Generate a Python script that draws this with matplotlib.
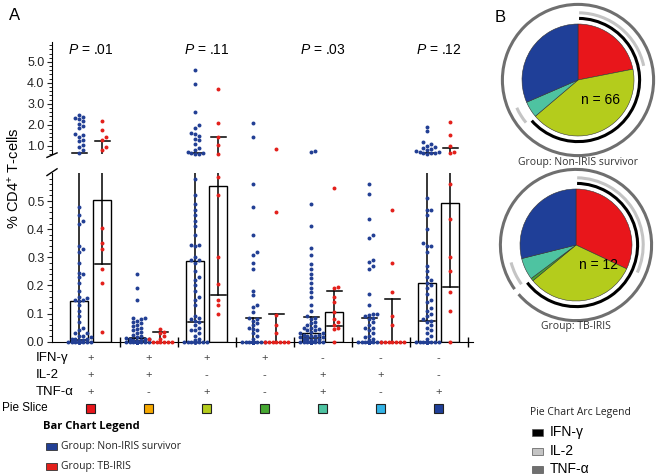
import numpy as np
import matplotlib
matplotlib.use('Agg')
import matplotlib.pyplot as plt
from matplotlib.patches import Rectangle, Wedge, Arc

plt.rcParams['font.family'] = ['Liberation Sans', 'DejaVu Sans']
plt.rcParams['mathtext.fontset'] = 'custom'
plt.rcParams['mathtext.rm'] = 'Liberation Sans'
plt.rcParams['mathtext.it'] = 'Liberation Sans:italic'

# --- data -------------------------------------------------------------
ifn_row = ['+', '+', '+', '+', '-', '-', '-']
il2_row = ['+', '+', '-', '-', '+', '+', '-']
tnf_row = ['+', '-', '+', '-', '+', '-', '+']
slice_colors = ['#e8161b', '#f6a800', '#b4cc1c', '#46a832', '#4ec3a1', '#33b3e6', '#1f3f98']

p_groups = [0, 2, 4, 6]
p_labels = ['.01', '.11', '.03', '.12']

# Non-IRIS survivors (n = 66) per cytokine combination
non_iris = [
    [2.48, 2.38, 2.32, 2.25, 2.2, 2.05, 1.95, 1.85, 1.55, 1.5, 1.42, 1.25, 1.2, 1.02, 0.95, 0.78, 0.66,
     0.48, 0.45, 0.43, 0.42, 0.34, 0.33, 0.32, 0.28, 0.245, 0.24, 0.23, 0.21, 0.18, 0.16, 0.155, 0.15,
     0.148, 0.145, 0.13, 0.11, 0.09, 0.07, 0.05, 0.04, 0.03, 0.03, 0.02, 0.02, 0.015, 0.01, 0.01, 0.01,
     0.005, 0.005, 0, 0, 0, 0, 0, 0, 0, 0, 0, 0, 0, 0, 0, 0, 0],
    [0.24, 0.19, 0.15, 0.085, 0.083, 0.08, 0.075, 0.07, 0.065, 0.06, 0.055, 0.05, 0.045, 0.04, 0.035,
     0.03, 0.025, 0.02, 0.015, 0.012, 0.01, 0.01, 0.008, 0.005, 0.005, 0.003,
     0, 0, 0, 0, 0, 0, 0, 0, 0, 0, 0, 0, 0, 0, 0, 0, 0, 0, 0, 0,
     0, 0, 0, 0, 0, 0, 0, 0, 0, 0, 0, 0, 0, 0, 0, 0, 0, 0, 0, 0],
    [4.6, 3.95, 2.6, 2.0, 1.85, 1.6, 1.55, 1.45, 1.3, 1.25, 1.1, 0.9, 0.8, 0.7, 0.65, 0.63, 0.62, 0.62,
     0.58, 0.52, 0.49, 0.47, 0.45, 0.43, 0.41, 0.38, 0.345, 0.345, 0.34, 0.3, 0.29, 0.29, 0.28, 0.25,
     0.23, 0.22, 0.2, 0.18, 0.16, 0.15, 0.13, 0.09, 0.085, 0.08, 0.075, 0.07, 0.06, 0.05, 0.04, 0.04,
     0.03, 0.02, 0.01, 0.005, 0, 0, 0, 0, 0, 0, 0, 0, 0, 0, 0, 0],
    [2.1, 1.4, 0.56, 0.48, 0.38, 0.32, 0.31, 0.28, 0.26, 0.18, 0.165, 0.13, 0.125, 0.105, 0.085, 0.08,
     0.075, 0.065, 0.06, 0.05, 0.045, 0.04, 0.03, 0.02, 0.01,
     0, 0, 0, 0, 0, 0, 0, 0, 0, 0, 0, 0, 0, 0, 0, 0, 0, 0, 0, 0, 0,
     0, 0, 0, 0, 0, 0, 0, 0, 0, 0, 0, 0, 0, 0, 0, 0, 0, 0, 0, 0, 0],
    [0.72, 0.68, 0.49, 0.41, 0.335, 0.31, 0.275, 0.26, 0.24, 0.225, 0.21, 0.19, 0.175, 0.16, 0.13,
     0.11, 0.09, 0.085, 0.08, 0.07, 0.065, 0.06, 0.055, 0.05, 0.05, 0.045, 0.04, 0.04, 0.035, 0.03,
     0.03, 0.025, 0.025, 0.02, 0.02, 0.02, 0.015, 0.015, 0.01, 0.01, 0.01, 0.005, 0.005,
     0, 0, 0, 0, 0, 0, 0, 0, 0, 0, 0, 0, 0, 0, 0, 0, 0, 0, 0, 0, 0, 0, 0],
    [0.56, 0.525, 0.435, 0.38, 0.37, 0.29, 0.285, 0.27, 0.26, 0.17, 0.13, 0.1, 0.1, 0.095, 0.09,
     0.085, 0.08, 0.07, 0.06, 0.05, 0.05, 0.04, 0.03, 0.02, 0.015, 0.01, 0.005,
     0, 0, 0, 0, 0, 0, 0, 0, 0, 0, 0, 0, 0, 0, 0, 0, 0, 0, 0, 0,
     0, 0, 0, 0, 0, 0, 0, 0, 0, 0, 0, 0, 0, 0, 0, 0, 0, 0, 0],
    [1.9, 1.7, 1.15, 1.1, 1.0, 0.95, 0.9, 0.85, 0.8, 0.75, 0.7, 0.68, 0.65, 0.65, 0.63, 0.62,
     0.51, 0.47, 0.47, 0.45, 0.4, 0.35, 0.34, 0.34, 0.32, 0.27, 0.25, 0.23, 0.22, 0.21, 0.2, 0.19,
     0.17, 0.15, 0.14, 0.12, 0.11, 0.1, 0.09, 0.08, 0.075, 0.07, 0.06, 0.05, 0.04, 0.03, 0.02, 0.01,
     0, 0, 0, 0, 0, 0, 0, 0, 0, 0, 0, 0, 0, 0, 0, 0, 0, 0],
]

# TB-IRIS (n = 12)
tb_iris = [
    [2.2, 1.75, 1.4, 1.25, 0.95, 0.8, 0.405, 0.35, 0.33, 0.26, 0.21, 0.035],
    [0.045, 0.035, 0.03, 0.02, 0.01, 0.01, 0, 0, 0, 0, 0, 0],
    [3.7, 2.1, 1.4, 1.05, 0.62, 0.585, 0.52, 0.3, 0.205, 0.15, 0.13, 0.1],
    [0.85, 0.46, 0.095, 0.06, 0.03, 0, 0, 0, 0, 0, 0, 0],
    [0.545, 0.195, 0.19, 0.16, 0.14, 0.105, 0.08, 0.07, 0.06, 0.05, 0.045, 0],
    [0.47, 0.28, 0.175, 0.09, 0.06, 0, 0, 0, 0, 0, 0, 0],
    [2.15, 1.5, 0.98, 0.7, 0.66, 0.56, 0.435, 0.3, 0.25, 0.175, 0.11, 0],
]

# box top, median line and upper whisker
non_box = [0.143, 0.012, 0.286, 0, 0.03, 0, 0.21]
non_med = [0.007, 0.004, 0.071, 0, 0.012, 0, 0.073]
non_top = [0.63, 0.013, 0.64, 0.083, 0.087, 0.084, 0.66]
tb_box = [0.505, 0, 0.552, 0, 0.106, 0, 0.494]
tb_med = [0.278, 0, 0.166, 0, 0.055, 0, 0.193]
tb_top = [1.22, 0.033, 1.41, 0.098, 0.18, 0.151, 0.89]

# pie chart slice percentages (same order as the 7 combinations)
pie_non = [21.9, 0, 41.9, 0, 4.7, 0, 31.5]
pie_tb = [32.0, 0, 32.0, 0.8, 6.3, 0, 28.9]

BLUE = '#223f94'
RED = '#e3201b'
W, H = 662, 475


def fx(px):
    return px / W


def fy(py):
    return 1 - py / H


fig = plt.figure(figsize=(6.62, 4.75), dpi=100)

# --- broken axis -----------------------------------------------------------
ax_hi = fig.add_axes([fx(52), fy(154), fx(473) - fx(52), (154 - 42) / H])
ax_lo = fig.add_axes([fx(52), fy(341.7), fx(473) - fx(52), (341.7 - 173) / H])

xlim = (-0.67, 6.59)
for ax in (ax_hi, ax_lo):
    ax.set_xlim(*xlim)
    for s in ['top', 'right']:
        ax.spines[s].set_visible(False)
    ax.tick_params(axis='y', labelsize=9, colors='#222', length=3.5, width=0.8, pad=2)
    ax.tick_params(axis='y', which='minor', length=2, width=0.6)

ax_hi.set_ylim(0.6, 5.95)
ax_hi.spines['bottom'].set_visible(False)
ax_hi.set_xticks([])
ax_hi.set_yticks([1, 2, 3, 4, 5])
ax_hi.set_yticklabels(['1.0', '2.0', '3.0', '4.0', '5.0'])
ax_hi.set_yticks(np.arange(0.6, 5.95, 0.2), minor=True)

ax_lo.set_ylim(0, 0.6)
ax_lo.set_yticks([0, 0.1, 0.2, 0.3, 0.4, 0.5])
ax_lo.set_yticklabels(['0.0', '0.1', '0.2', '0.3', '0.4', '0.5'])
ax_lo.set_yticks(np.arange(0, 0.6, 0.02), minor=True)
ax_lo.set_xticks(np.arange(0.5, 7, 1))
ax_lo.set_xticklabels([])
ax_lo.tick_params(axis='x', direction='inout', length=7, width=1)

# break marks
ax_hi.plot([-0.012, 0.012], [-0.03, 0.01], color='k', lw=1, transform=ax_hi.transAxes, clip_on=False)
ax_lo.plot([-0.012, 0.012], [0.985, 1.025], color='k', lw=1, transform=ax_lo.transAxes, clip_on=False)

# boxes, medians and whiskers
cap = 0.13
for i in range(7):
    for off, box, med, top in [(-0.2, non_box[i], non_med[i], non_top[i]),
                               (0.2, tb_box[i], tb_med[i], tb_top[i])]:
        x = i + off
        for ax in (ax_hi, ax_lo):
            if box > 0:
                ax.add_patch(Rectangle((x - 0.155, 0), 0.31, box, fc='white', ec='k', lw=1, zorder=2))
            ax.plot([x, x], [med, top], color='k', lw=1.1, zorder=3)
            ax.plot([x - cap, x + cap], [top, top], color='k', lw=1.1, zorder=3)
            if med > 0:
                ax.plot([x - cap, x + cap], [med, med], color='k', lw=1.1, zorder=3)


# beeswarm placement in pixel space
def swarm(ys_px, d, max_half):
    cands = [0.0]
    k = 1
    while k * d <= max_half:
        cands += [k * d, -k * d]
        k += 1
    offs = np.zeros(len(ys_px))
    placed = []
    for i in np.argsort(ys_px):
        y = ys_px[i]
        best, best_gap = 0.0, -1
        for c in cands:
            gap = min([np.hypot(c - px, y - py) for px, py in placed], default=1e9)
            if gap >= d * 0.95:
                best = c
                break
            if gap > best_gap:
                best_gap, best = gap, c
        offs[i] = best
        placed.append((best, y))
    return offs


px_per_unit = ax_lo.transData.transform((1, 0))[0] - ax_lo.transData.transform((0, 0))[0]

for i in range(7):
    for off, vals, col in [(-0.2, non_iris[i], BLUE), (0.2, tb_iris[i], RED)]:
        vals = np.array(vals, dtype=float)
        ys_px = np.array([(ax_hi if v > 0.6 else ax_lo).transData.transform((0, v))[1] for v in vals])
        dx = swarm(ys_px, 3.8, 13) / px_per_unit
        hi = vals > 0.6
        ax_hi.scatter(i + off + dx[hi], vals[hi], s=8, color=col, lw=0, zorder=4, clip_on=False)
        ax_lo.scatter(i + off + dx[~hi], vals[~hi], s=8, color=col, lw=0, zorder=4, clip_on=False)

for g, p in zip(p_groups, p_labels):
    ax_hi.text(g, 0.93, '$P$ = ' + p, transform=ax_hi.get_xaxis_transform(),
               ha='center', va='center', fontsize=10)

fig.text(fx(14), fy(178), '% CD4$^{+}$ T-cells', rotation=90, ha='center', va='center', fontsize=10.5)
fig.text(fx(9), fy(16), 'A', fontsize=12, ha='left', va='center')
fig.text(fx(495), fy(17), 'B', fontsize=12, ha='left', va='center')

# --- combination table ----------------------------------------------------------
row_y = [358, 375, 392]
for lab, row, y in zip(['IFN-\u03b3', 'IL-2', 'TNF-\u03b1'], [ifn_row, il2_row, tnf_row], row_y):
    fig.text(fx(36), fy(y), lab, fontsize=9.5, ha='left', va='center')
    for i, s in enumerate(row):
        xd = ax_lo.transData.transform((i, 0))[0]
        fig.text(xd / fig.bbox.width, fy(y), s, fontsize=8, ha='center', va='center', color='#444')

fig.text(fx(2), fy(408), 'Pie Slice', fontsize=8.5, ha='left', va='center')
for i, c in enumerate(slice_colors):
    xd = ax_lo.transData.transform((i, 0))[0]
    fig.add_artist(Rectangle((xd / fig.bbox.width - fx(4.5), fy(412.5)), fx(9), 9 / H,
                             fc=c, ec='#222', lw=0.8, transform=fig.transFigure))

# bar chart legend
fig.text(fx(43), fy(426), 'Bar Chart Legend', fontsize=8, fontweight='bold', family='Open Sans',
         ha='left', va='center')
for y, c, lab in [(446, BLUE, 'Group: Non-IRIS survivor'), (466, RED, 'Group: TB-IRIS')]:
    fig.add_artist(Rectangle((fx(46), fy(y + 3.5)), fx(11), 7 / H, fc=c, ec='#333', lw=0.6,
                             transform=fig.transFigure))
    fig.text(fx(61), fy(y), lab, fontsize=7.5, family='Open Sans', ha='left', va='center', color='#222')


# --- pie charts -----------------------------------------------------------------
def draw_pie(cx, cy, fracs, n_label, group_label, label_y):
    R = 56
    half = 1.45
    ax = fig.add_axes([fx(cx - half * R), fy(cy + half * R), 2 * half * R / W, 2 * half * R / H])
    ax.set_xlim(-half, half)
    ax.set_ylim(-half, half)
    ax.set_aspect('equal')
    ax.axis('off')
    tot = sum(fracs)
    items = [(k, f / tot) for k, f in enumerate(fracs) if f > 0]
    start = 0.0
    spans = []
    for k, f in items:
        t1 = 90 - (start + f) * 360
        t2 = 90 - start * 360
        ax.add_patch(Wedge((0, 0), 1, t1, t2, fc=slice_colors[k], ec='#333', lw=0.4))
        spans.append((k, start, start + f))
        start += f
    for row, r, col in [(ifn_row, 1.1, 'black'), (il2_row, 1.2, '#c4c4c4'), (tnf_row, 1.35, '#6f6f6f')]:
        runs = []
        for k, s, e in spans:
            if row[k] == '+':
                if runs and abs(runs[-1][1] - s) < 1e-9:
                    runs[-1][1] = e
                else:
                    runs.append([s, e])
        if len(runs) > 1 and runs[0][0] < 1e-9 and abs(runs[-1][1] - 1) < 1e-9:
            runs[0][0] = runs[-1][0] - 1
            runs.pop()
        for s, e in runs:
            if e - s > 0.999:
                ax.add_patch(Arc((0, 0), 2 * r, 2 * r, theta1=0, theta2=360, color=col, lw=2.2))
            else:
                ax.add_patch(Arc((0, 0), 2 * r, 2 * r, theta1=90 - e * 360 + 1, theta2=90 - s * 360 - 1,
                                 color=col, lw=2.2))
    ax.text(0.4, -0.36, n_label, fontsize=10, ha='center', va='center')
    fig.text(fx(cx), fy(label_y), group_label, fontsize=7.5, family='Open Sans', ha='center',
             va='center', color='#333')


draw_pie(578, 80, pie_non, 'n = 66', 'Group: Non-IRIS survivor', 162)
draw_pie(576, 245, pie_tb, 'n = 12', 'Group: TB-IRIS', 326)

# arc legend
fig.text(fx(530), fy(412), 'Pie Chart Arc Legend', fontsize=7.5, family='Open Sans', ha='left',
         va='center', color='#222')
for y, c, lab in [(432, 'black', 'IFN-\u03b3'), (451, '#c4c4c4', 'IL-2'), (469, '#6f6f6f', 'TNF-\u03b1')]:
    fig.add_artist(Rectangle((fx(532), fy(y + 3.5)), fx(11), 7 / H, fc=c, ec='#555', lw=0.5,
                             transform=fig.transFigure))
    fig.text(fx(550), fy(y), lab, fontsize=10, ha='left', va='center')

fig.savefig('out.png', dpi=100)
